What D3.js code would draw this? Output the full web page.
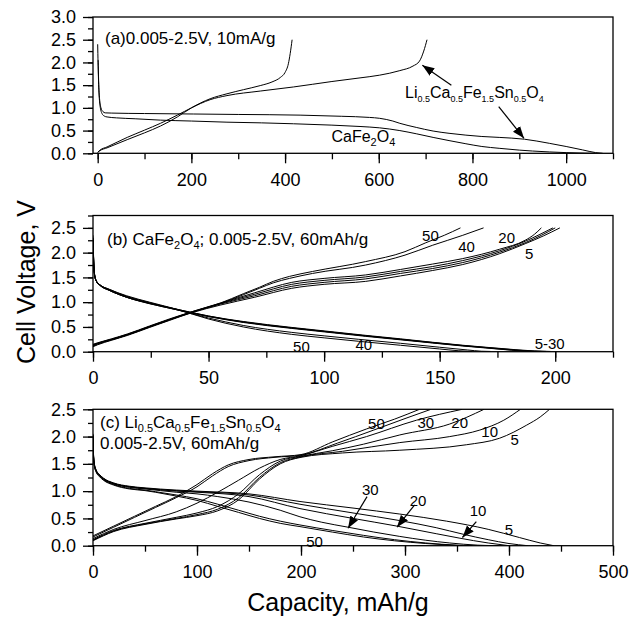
<!DOCTYPE html>
<html>
<head>
<meta charset="utf-8">
<script src="https://cdn.jsdelivr.net/npm/d3@7"></script>
<style>
body { margin: 0; background: #fff; }
svg { display: block; font-family: "Liberation Sans", Arial, Helvetica, sans-serif; }
</style>
</head>
<body>
<div id="chart"></div>
<script>
// ---- (a) first cycle, 0.005-2.5V, 10mA/g ----  [capacity mAh/g, voltage V]
var a_cafe_discharge = [[0,2.4],[0.8,2.0],[2.5,1.4],[5,1.05],[9,0.88],[14,0.82],[20,0.8],[40,0.78],[80,0.76],[134,0.73],[200,0.71],[276,0.685],[350,0.67],[418,0.65],[500,0.62],[560,0.59],[602,0.56],[645,0.5],[680,0.43],[716,0.35],[750,0.28],[786,0.21],[820,0.15],[857,0.11],[900,0.07],[928,0.05],[964,0.03],[1000,0.015],[1040,0.003],[1060,0]];
var a_cafe_charge = [[0,0.02],[5,0.06],[20,0.12],[63,0.3],[100,0.45],[134,0.6],[170,0.8],[200,1.0],[240,1.2],[276,1.31],[311,1.4],[347,1.49],[372,1.57],[390,1.67],[400,1.78],[407,1.97],[411,2.2],[415,2.5]];
var a_li_discharge = [[1,2.05],[2,1.6],[4,1.2],[7,1.0],[11,0.92],[16,0.89],[30,0.885],[100,0.875],[205,0.865],[300,0.855],[432,0.84],[520,0.815],[580,0.79],[602,0.77],[630,0.71],[645,0.66],[680,0.57],[716,0.49],[750,0.44],[786,0.4],[820,0.37],[857,0.35],[911,0.31],[964,0.22],[1000,0.15],[1035,0.075],[1063,0.015],[1078,0]];
var a_li_charge = [[0,0.02],[5,0.07],[20,0.14],[63,0.35],[100,0.51],[134,0.66],[170,0.84],[200,1.0],[240,1.18],[276,1.27],[347,1.37],[418,1.46],[500,1.58],[560,1.66],[602,1.72],[645,1.82],[673,1.92],[687,2.03],[696,2.25],[703,2.5]];

// ---- (b) CaFe2O4 cycles 5..50, 60mAh/g ----
var b_cycles = [5, 10, 20, 30, 40, 50];
var b_discharge_5 = [[0,2.35],[0.3,1.85],[0.7,1.56],[1.5,1.43],[3,1.35],[7,1.25],[14.5,1.11],[24.5,0.98],[36,0.86],[50,0.72],[65,0.61],[86,0.49],[100,0.42],[118,0.33],[133,0.26],[147,0.19],[160,0.13],[170,0.09],[183,0.04],[191,0.015],[198,0.005]];
var b_discharge_10 = [[0,2.3],[0.3,1.83],[0.7,1.55],[1.5,1.42],[3,1.34],[7,1.24],[14.5,1.1],[24.5,0.98],[36,0.86],[50,0.72],[65,0.6],[86,0.48],[100,0.41],[118,0.32],[133,0.25],[147,0.185],[160,0.125],[170,0.085],[183,0.035],[190,0.012],[196,0.005]];
var b_discharge_20 = [[0,2.3],[0.3,1.82],[0.7,1.55],[1.5,1.42],[3,1.34],[7,1.24],[14.5,1.1],[24.5,0.97],[36,0.85],[50,0.71],[65,0.6],[86,0.48],[100,0.41],[118,0.32],[133,0.25],[147,0.18],[160,0.12],[170,0.08],[182,0.03],[189,0.01],[194,0.005]];
var b_discharge_30 = [[0,2.28],[0.3,1.82],[0.7,1.55],[1.5,1.42],[3,1.34],[7,1.24],[14.5,1.1],[24.5,0.97],[36,0.85],[50,0.71],[65,0.59],[86,0.47],[100,0.4],[118,0.31],[133,0.24],[147,0.175],[160,0.115],[170,0.075],[181,0.03],[187,0.01],[192,0.005]];
var b_discharge_40 = [[0,2.25],[0.3,1.8],[0.7,1.54],[1.5,1.42],[3,1.35],[7,1.26],[14.5,1.12],[24.5,0.99],[36,0.85],[50,0.68],[65,0.53],[86,0.39],[100,0.32],[115,0.25],[133,0.17],[150,0.09],[162,0.035],[168,0.01],[172,0.005]];
var b_discharge_50 = [[0,2.2],[0.3,1.78],[0.7,1.53],[1.5,1.42],[3,1.35],[7,1.26],[14.5,1.13],[24.5,1.0],[36,0.86],[50,0.66],[65,0.5],[86,0.35],[100,0.28],[115,0.21],[133,0.13],[150,0.055],[158,0.02],[164,0.005]];
var b_charge_5 = [[0,0.1],[2,0.14],[8,0.23],[15,0.33],[24.5,0.49],[33,0.63],[43,0.79],[55,0.94],[70,1.1],[86,1.28],[100,1.36],[118,1.42],[133,1.53],[147,1.64],[160,1.76],[176,1.98],[187,2.18],[195,2.34],[202,2.5]];
var b_charge_10 = [[0,0.11],[2,0.15],[8,0.24],[15,0.34],[24.5,0.5],[33,0.64],[43,0.8],[55,0.96],[70,1.13],[86,1.32],[100,1.4],[118,1.47],[133,1.58],[147,1.68],[160,1.8],[176,2.01],[187,2.2],[194,2.35],[200,2.5]];
var b_charge_20 = [[0,0.12],[2,0.16],[8,0.24],[15,0.34],[24.5,0.5],[33,0.64],[43,0.8],[55,0.97],[70,1.16],[86,1.36],[100,1.44],[118,1.51],[133,1.62],[147,1.72],[160,1.84],[176,2.04],[187,2.23],[193,2.36],[199,2.5]];
var b_charge_30 = [[0,0.13],[2,0.17],[8,0.25],[15,0.35],[24.5,0.51],[33,0.65],[43,0.81],[55,0.98],[70,1.19],[86,1.4],[100,1.48],[118,1.55],[133,1.66],[147,1.77],[160,1.88],[176,2.07],[187,2.25],[191,2.37],[194,2.5]];
var b_charge_40 = [[0,0.14],[2,0.17],[8,0.25],[15,0.35],[24.5,0.51],[33,0.65],[43,0.8],[55,0.97],[65,1.15],[72,1.28],[78,1.39],[85,1.48],[95,1.58],[118,1.75],[135,1.95],[147,2.15],[160,2.35],[169,2.5]];
var b_charge_50 = [[0,0.15],[2,0.18],[8,0.26],[15,0.36],[24.5,0.52],[33,0.66],[43,0.81],[55,0.98],[65,1.17],[72,1.3],[78,1.42],[85,1.52],[95,1.62],[118,1.82],[135,2.02],[144,2.2],[152,2.35],[159,2.5]];

// ---- (c) Li0.5Ca0.5Fe1.5Sn0.5O4 cycles 5..50, 60mAh/g ----
var c_cycles = [5, 10, 20, 30, 40, 50];
var c_discharge_5 = [[0,2.05],[0.4,1.72],[1.2,1.52],[3,1.39],[6,1.31],[10,1.24],[20,1.15],[35,1.09],[50,1.06],[80,1.02],[100,1.0],[150,0.95],[199,0.81],[250,0.69],[295,0.58],[340,0.45],[380,0.3],[410,0.15],[430,0.05],[443,0]];
var c_discharge_10 = [[0,2.03],[0.4,1.71],[1.2,1.51],[3,1.38],[6,1.3],[10,1.23],[20,1.14],[35,1.08],[50,1.05],[80,1.01],[100,0.99],[150,0.93],[199,0.76],[250,0.6],[295,0.46],[330,0.33],[356,0.21],[380,0.11],[400,0.04],[418,0]];
var c_discharge_20 = [[0,2.02],[0.4,1.7],[1.2,1.5],[3,1.38],[6,1.3],[10,1.23],[20,1.14],[35,1.08],[50,1.05],[80,1.0],[100,0.98],[150,0.9],[199,0.68],[250,0.5],[292,0.36],[330,0.22],[352,0.14],[380,0.05],[400,0]];
var c_discharge_30 = [[0,2.0],[0.4,1.69],[1.2,1.49],[3,1.37],[6,1.29],[10,1.22],[20,1.13],[35,1.07],[50,1.04],[80,0.98],[100,0.95],[120,0.9],[150,0.8],[180,0.65],[199,0.53],[220,0.43],[245,0.34],[270,0.25],[295,0.17],[320,0.1],[343,0.05],[370,0.01],[390,0]];
var c_discharge_40 = [[0,1.98],[0.4,1.68],[1.2,1.48],[3,1.36],[6,1.28],[10,1.21],[20,1.12],[35,1.05],[50,1.02],[60,0.99],[80,0.93],[100,0.86],[120,0.76],[140,0.65],[160,0.54],[180,0.45],[199,0.38],[230,0.28],[260,0.19],[290,0.11],[320,0.05],[350,0.01],[365,0]];
var c_discharge_50 = [[0,1.96],[0.4,1.67],[1.2,1.47],[3,1.35],[6,1.27],[10,1.2],[20,1.11],[35,1.04],[50,1.01],[60,0.98],[80,0.91],[100,0.83],[120,0.72],[140,0.61],[160,0.5],[180,0.41],[199,0.35],[230,0.25],[260,0.16],[290,0.09],[320,0.04],[345,0.01],[355,0]];
var c_charge_5 = [[0,0.09],[20,0.26],[50,0.39],[80,0.49],[100,0.55],[120,0.64],[140,0.84],[160,1.22],[180,1.5],[200,1.62],[240,1.7],[295,1.75],[359,1.85],[391,1.97],[417,2.21],[430,2.36],[439,2.5]];
var c_charge_10 = [[0,0.1],[20,0.27],[50,0.4],[80,0.5],[100,0.57],[120,0.67],[140,0.88],[160,1.25],[180,1.52],[200,1.63],[240,1.73],[295,1.89],[343,2.0],[372,2.12],[395,2.3],[411,2.5]];
var c_charge_20 = [[0,0.11],[20,0.28],[50,0.41],[80,0.52],[100,0.6],[120,0.72],[140,0.95],[160,1.3],[180,1.55],[200,1.64],[230,1.74],[260,1.86],[295,2.03],[343,2.23],[376,2.5]];
var c_charge_30 = [[0,0.13],[20,0.3],[50,0.46],[80,0.62],[100,0.78],[120,0.98],[140,1.2],[160,1.42],[180,1.58],[200,1.65],[230,1.82],[263,2.0],[311,2.3],[355,2.5]];
var c_charge_40 = [[0,0.16],[20,0.34],[40,0.52],[60,0.7],[80,0.88],[100,1.08],[115,1.28],[130,1.45],[150,1.56],[175,1.62],[200,1.66],[235,1.88],[270,2.12],[300,2.33],[325,2.5]];
var c_charge_50 = [[0,0.18],[20,0.36],[40,0.54],[60,0.72],[80,0.9],[100,1.12],[115,1.32],[130,1.48],[150,1.58],[175,1.63],[200,1.67],[230,1.9],[263,2.14],[290,2.32],[314,2.5]];

// curve labels: [capacity, voltage, text]
var b_labels = [[146,2.34,"50"],[161.6,2.13,"40"],[179,2.3,"20"],[188.7,1.99,"5"],[90.2,0.095,"50"],[117.2,0.135,"40"],[197.6,0.155,"5-30"]];
var c_labels = [[272.5,2.23,"50"],[320,2.25,"30"],[352.6,2.25,"20"],[381.4,2.09,"10"],[405.5,1.95,"5"],[266.7,1.03,"30"],[312.5,0.82,"20"],[370.2,0.65,"10"],[400,0.3,"5"],[213,0.07,"50"]];
// arrows: [from capacity, from V, to capacity, to V]
var a_arrows = [[755,1.5,693,1.94],[856,1.03,910,0.33]];
var c_arrows = [[263.5,0.9,245.2,0.32],[309.3,0.75,292.3,0.34],[368.6,0.44,355.2,0.15]];

var width = 631, height = 619;
var left = 93, right = 613;

var svg = d3.select("#chart").append("svg")
    .attr("width", width).attr("height", height);

svg.append("defs").append("marker")
    .attr("id", "head")
    .attr("viewBox", "0 -5 12 10")
    .attr("refX", 12).attr("refY", 0)
    .attr("markerWidth", 12).attr("markerHeight", 10)
    .attr("markerUnits", "userSpaceOnUse")
    .attr("orient", "auto")
    .append("path").attr("d", "M0,-4.5L12,0L0,4.5Z").attr("fill", "#000");

// text with subscripts, parts starting with "_" are subscripts
function rich_text(g, x, y, parts, size, sub_size) {
    var t = g.append("text").attr("x", x).attr("y", y).attr("font-size", size).attr("fill", "#000");
    var shift = 0;
    parts.forEach(function(p) {
        var is_sub = p.charAt(0) == "_";
        var target = is_sub ? 4 : 0;
        t.append("tspan")
            .attr("dy", target - shift)
            .attr("font-size", is_sub ? sub_size : size)
            .text(is_sub ? p.slice(1) : p);
        shift = target;
    });
    return t;
}

function draw_panel(p) {
    var x = d3.scaleLinear().domain(p.xdomain).range([left, right]);
    var y = d3.scaleLinear().domain(p.ydomain).range([p.bottom, p.top]);
    var g = svg.append("g");

    g.append("clipPath").attr("id", "clip_" + p.id)
        .append("rect").attr("x", left).attr("y", p.top)
        .attr("width", right - left).attr("height", p.bottom - p.top);

    // minor ticks
    g.append("g").attr("transform", "translate(0," + p.bottom + ")")
        .call(d3.axisBottom(x).tickValues(p.xminor).tickSize(6).tickSizeOuter(0).tickFormat(""));
    g.append("g").attr("transform", "translate(" + left + ",0)")
        .call(d3.axisLeft(y).tickValues(p.yminor).tickSize(5).tickSizeOuter(0).tickFormat(""));
    // major ticks
    g.append("g").attr("transform", "translate(0," + p.bottom + ")")
        .call(d3.axisBottom(x).tickValues(p.xmajor).tickSize(10).tickPadding(10).tickSizeOuter(0).tickFormat(d3.format("d")));
    g.append("g").attr("transform", "translate(" + left + ",0)")
        .call(d3.axisLeft(y).tickValues(p.ymajor).tickSize(10).tickPadding(7).tickSizeOuter(0).tickFormat(d3.format(".1f")));

    g.selectAll(".tick line").attr("stroke", "#000").attr("stroke-width", 1.3);
    g.selectAll(".domain").remove();
    g.selectAll(".tick text").attr("font-size", 18).attr("fill", "#000")
        .attr("font-family", "Liberation Sans, Arial, sans-serif");

    var line = d3.line()
        .x(function(d) { return x(d[0]); })
        .y(function(d) { return y(d[1]); })
        .curve(d3.curveMonotoneX);

    g.append("g").attr("clip-path", "url(#clip_" + p.id + ")")
        .selectAll("path").data(p.curves).enter().append("path")
        .attr("d", line)
        .attr("fill", "none")
        .attr("stroke", "#000")
        .attr("stroke-width", 1);

    g.selectAll(".curve-label").data(p.labels).enter().append("text")
        .attr("class", "curve-label")
        .attr("x", function(d) { return x(d[0]); })
        .attr("y", function(d) { return y(d[1]); })
        .attr("dy", "0.36em")
        .attr("text-anchor", "middle")
        .attr("font-size", 15)
        .text(function(d) { return d[2]; });

    g.selectAll(".arrow").data(p.arrows).enter().append("line")
        .attr("class", "arrow")
        .attr("x1", function(d) { return x(d[0]); })
        .attr("y1", function(d) { return y(d[1]); })
        .attr("x2", function(d) { return x(d[2]); })
        .attr("y2", function(d) { return y(d[3]); })
        .attr("stroke", "#000").attr("stroke-width", 1.2)
        .attr("marker-end", "url(#head)");

    g.append("rect")
        .attr("x", left).attr("y", p.top)
        .attr("width", right - left).attr("height", p.bottom - p.top)
        .attr("fill", "none").attr("stroke", "#000").attr("stroke-width", 1.3);

    if (p.extra) p.extra(g, x, y);
}

var panels = [
    {
        id: "a", top: 17, bottom: 153.3,
        xdomain: [-10, 1100], ydomain: [0, 3],
        xmajor: d3.range(0, 1001, 200), xminor: d3.range(0, 1101, 100),
        ymajor: d3.range(0, 3.01, 0.5), yminor: d3.range(0, 3.01, 0.25),
        curves: [a_cafe_discharge, a_cafe_charge, a_li_discharge, a_li_charge],
        labels: [], arrows: a_arrows,
        extra: function(g, x, y) {
            rich_text(g, 105, 44, ["(a)0.005-2.5V, 10mA/g"], 17, 11);
            rich_text(g, 405, 98, ["Li", "_0.5", "Ca", "_0.5", "Fe", "_1.5", "Sn", "_0.5", "O", "_4"], 16, 9);
            rich_text(g, x(499), y(0.25), ["CaFe", "_2", "O", "_4"], 16, 11);
        }
    },
    {
        id: "b", top: 215.5, bottom: 351.7,
        xdomain: [0, 225], ydomain: [0, 2.75],
        xmajor: d3.range(0, 201, 50), xminor: d3.range(0, 226, 25),
        ymajor: d3.range(0, 2.51, 0.5), yminor: d3.range(0, 2.76, 0.25),
        curves: [b_discharge_5, b_discharge_10, b_discharge_20, b_discharge_30, b_discharge_40, b_discharge_50,
                 b_charge_5, b_charge_10, b_charge_20, b_charge_30, b_charge_40, b_charge_50],
        labels: b_labels, arrows: [],
        extra: function(g, x, y) {
            rich_text(g, 107, 245, ["(b) CaFe", "_2", "O", "_4", "; 0.005-2.5V, 60mAh/g"], 17, 11);
        }
    },
    {
        id: "c", top: 409.3, bottom: 545.7,
        xdomain: [0, 500], ydomain: [0, 2.5],
        xmajor: d3.range(0, 501, 100), xminor: d3.range(0, 501, 50),
        ymajor: d3.range(0, 2.51, 0.5), yminor: d3.range(0, 2.51, 0.25),
        curves: [c_discharge_5, c_discharge_10, c_discharge_20, c_discharge_30, c_discharge_40, c_discharge_50,
                 c_charge_5, c_charge_10, c_charge_20, c_charge_30, c_charge_40, c_charge_50],
        labels: c_labels, arrows: c_arrows,
        extra: function(g, x, y) {
            rich_text(g, 100, 428, ["(c) Li", "_0.5", "Ca", "_0.5", "Fe", "_1.5", "Sn", "_0.5", "O", "_4"], 17, 11);
            rich_text(g, 100, 449, ["0.005-2.5V, 60mAh/g"], 17, 11);
        }
    }
];

panels.forEach(draw_panel);

// shared axis titles
svg.append("text")
    .attr("transform", "translate(35,282) rotate(-90)")
    .attr("text-anchor", "middle")
    .attr("font-size", 25)
    .text("Cell Voltage, V");

svg.append("text")
    .attr("x", 338).attr("y", 611)
    .attr("text-anchor", "middle")
    .attr("font-size", 25)
    .text("Capacity, mAh/g");
</script>
</body>
</html>
